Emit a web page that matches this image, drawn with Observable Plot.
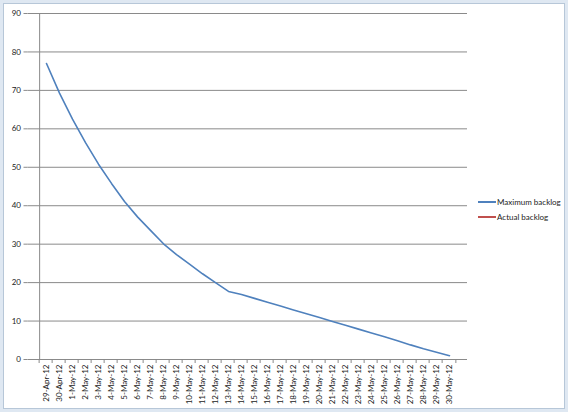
<!DOCTYPE html>
<html>
<head>
<meta charset="utf-8">
<script src="https://cdn.jsdelivr.net/npm/d3@7"></script>
<script src="https://cdn.jsdelivr.net/npm/@observablehq/plot@0.6"></script>
<style>
  html, body { margin: 0; padding: 0; background: #fff; }
  #wrap { position: relative; width: 568px; height: 412px; overflow: hidden; font-family: Lato, "Open Sans", sans-serif; }
  #frame { position: absolute; left: 0; top: 0; width: 568px; height: 412px; box-sizing: border-box;
           border: 3px solid #dfe8f2; outline: 1px solid #b7c7d8; outline-offset: -4px; pointer-events: none; }
  #chart { position: absolute; left: 0; top: 0; }
  .legend { position: absolute; left: 478px; font-size: 8px; color: #222; line-height: 10px; }
  .legend .row { display: flex; align-items: center; height: 15px; }
  .legend .sw { width: 18px; height: 2px; margin-right: 1px; }
</style>
</head>
<body>
<div id="wrap">
  <div id="chart"></div>
  <div class="legend" id="legend" style="top:194px"></div>
  <div id="frame"></div>
</div>
<script>
const dates = ["29-Apr-12","30-Apr-12","1-May-12","2-May-12","3-May-12","4-May-12","5-May-12","6-May-12",
  "7-May-12","8-May-12","9-May-12","10-May-12","11-May-12","12-May-12","13-May-12","14-May-12",
  "15-May-12","16-May-12","17-May-12","18-May-12","19-May-12","20-May-12","21-May-12","22-May-12",
  "23-May-12","24-May-12","25-May-12","26-May-12","27-May-12","28-May-12","29-May-12","30-May-12"];
const maxBacklog = [77, 69.3, 62.5, 56.4, 50.8, 45.8, 41.1, 37.1, 33.6, 30.1, 27.3, 24.8, 22.3, 20.0,
  17.7, 16.9, 15.9, 14.9, 13.9, 12.9, 11.9, 10.9, 9.9, 8.9, 7.9, 6.9, 5.9, 4.9, 3.8, 2.8, 1.9, 1.0];
const actualBacklog = [];
const seriesNames = ["Maximum backlog", "Actual backlog"];
const seriesColors = ["#4f81bd", "#c0504d"];
const yTicks = [0, 10, 20, 30, 40, 50, 60, 70, 80, 90];

const rows = dates.map((d, i) => ({date: d, value: maxBacklog[i], series: seriesNames[0]}))
  .concat(actualBacklog.map((v, i) => ({date: dates[i], value: v, series: seriesNames[1]})));

const W = 568, H = 412, mL = 27.5, mR = 101, mT = 13, mB = 53;
const step = (W - mL - mR) / dates.length;

const plot = Plot.plot({
  width: W, height: H,
  marginLeft: mL, marginRight: mR, marginTop: mT, marginBottom: mB,
  style: {fontFamily: "Lato, 'Open Sans', sans-serif", fontSize: "8px", color: "#222", background: "transparent"},
  x: {type: "point", domain: dates, padding: 0.5, align: 0.5, label: null},
  y: {domain: [0, 90], label: null},
  color: {domain: seriesNames, range: seriesColors},
  marks: [
    Plot.ruleY(yTicks.filter(t => t > 0), {stroke: "#8a8a8a", strokeWidth: 1}),
    Plot.ruleY([0], {stroke: "#8a8a8a"}),
    Plot.ruleX([0], {x: () => dates[0], dx: -step / 2, stroke: "#8a8a8a"}),
    Plot.axisY({ticks: yTicks, tickSize: 4, tickPadding: 3, stroke: "#8a8a8a", tickFormat: d => d, fontSize: 8}),
    Plot.axisX({tickSize: 0, tickPadding: 5, tickRotate: -90, fontSize: 8}),
    Plot.line(rows, {x: "date", y: "value", stroke: "series", strokeWidth: 1.6})
  ]
});

// outward tick marks below the x axis at category boundaries
const ticksG = d3.select(plot).append("g").attr("stroke", "#8a8a8a");
const xs = plot.scale("x"), ys = plot.scale("y");
const y0 = ys.apply(0);
dates.forEach(d => {
  const x = xs.apply(d) - step / 2;
  ticksG.append("line").attr("x1", x).attr("x2", x).attr("y1", y0).attr("y2", y0 + 4);
});
const xl = xs.apply(dates[dates.length - 1]) + step / 2;
ticksG.append("line").attr("x1", xl).attr("x2", xl).attr("y1", y0).attr("y2", y0 + 4);

document.getElementById("chart").appendChild(plot);

const leg = document.getElementById("legend");
seriesNames.forEach((n, i) => {
  const r = document.createElement("div");
  r.className = "row";
  r.innerHTML = `<span class="sw" style="background:${seriesColors[i]}"></span><span>${n}</span>`;
  leg.appendChild(r);
});
</script>
</body>
</html>
